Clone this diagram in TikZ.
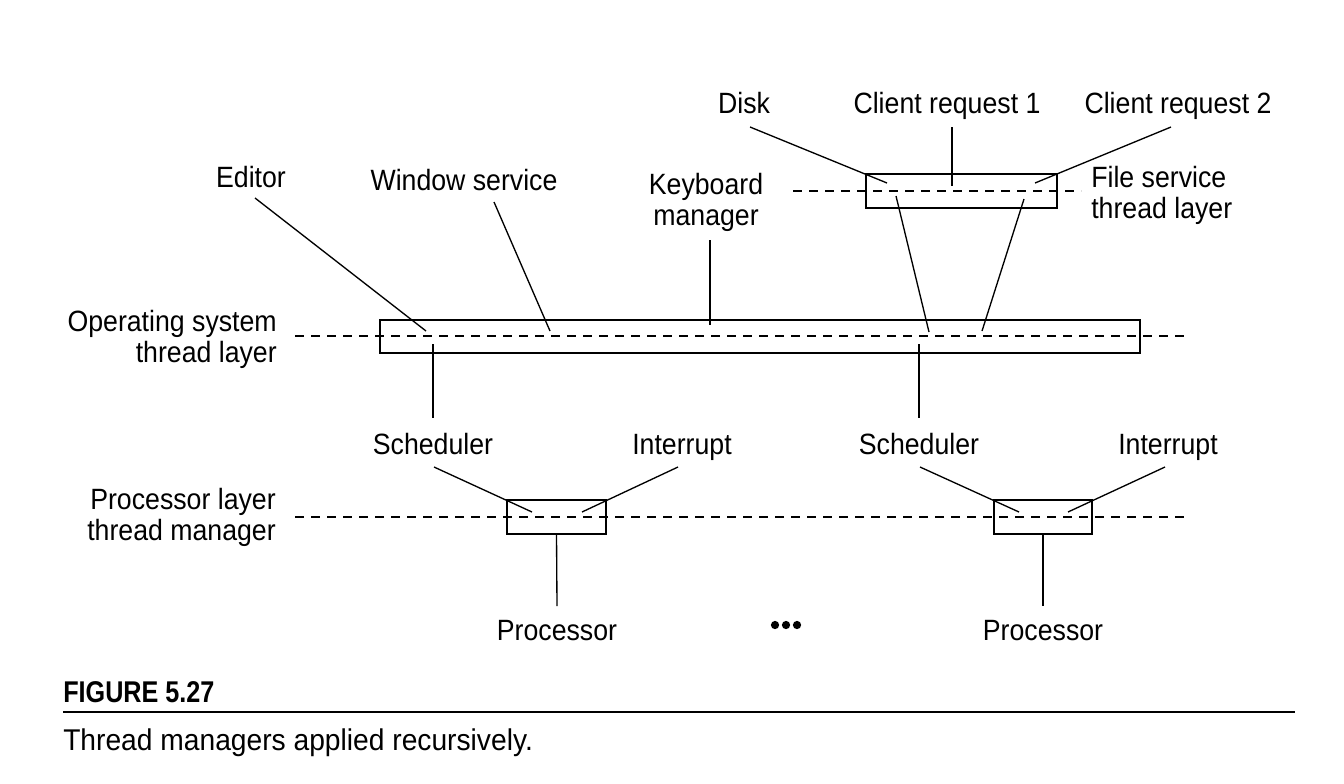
\documentclass[tikz,border=0pt]{standalone}
\usepackage{fontspec}
\usepackage{graphicx}
\setmainfont{Liberation Sans}
\newfontfamily\lblfont{Liberation Sans}[FakeStretch=0.91]
\newfontfamily\figfont{Liberation Sans Bold}[FakeStretch=0.84]
\usetikzlibrary{fit}
\newcommand{\twolines}[3]{\begin{tabular}[t]{@{}#1@{}}#2\\#3\end{tabular}}
\tikzset{
  lbl/.style={inner sep=0pt, font=\lblfont\fontsize{22}{23.25}\selectfont},
  layerbox/.style={draw, line width=1.25pt, inner sep=0pt},
  layerline/.style={line width=1.2pt, dash pattern=on 6.75pt off 5.25pt},
  leader/.style={line width=1pt},
}
\begin{document}
\begin{tikzpicture}[x=0.75pt,y=-0.75pt]
\useasboundingbox (0,0) rectangle (1344,783);

% ---------- dashed layer lines ----------
\coordinate (fsL) at (793,191);  \coordinate (fsR) at (1081,191);
\coordinate (osL) at (295,336);  \coordinate (osR) at (1189,336);
\coordinate (prL) at (295,517);  \coordinate (prR) at (1188,517);
\draw[layerline] (fsL) -- (fsR);
\draw[layerline] (osL) -- (osR);
\draw[layerline] (prL) -- (prR);

% ---------- boxes ----------
\node[layerbox, fit={(866,174)(1057,208)}] (fs) {};
\node[layerbox, fit={(380,320)(1140,353)}] (os) {};
\node[layerbox, fit={(507,500)(606,534)}] (p1) {};
\node[layerbox, fit={(994,500)(1092,534)}] (p2) {};

% ---------- labels ----------
\node[lbl, anchor=base] (disk) at (744,113) {Disk};
\node[lbl, anchor=base] (cr1) at (947,113) {Client request 1};
\node[lbl, anchor=base] (cr2) at (1178,113) {Client request 2};
\node[lbl, anchor=base west] (fslbl) at (1091,187) {\twolines{l}{File service}{thread layer}};
\node[lbl, anchor=base] (editor) at (251,187) {Editor};
\node[lbl, anchor=base] (window) at (464,190) {Window service};
\node[lbl, anchor=base] (keyb) at (706,194) {\twolines{c}{Keyboard}{manager}};
\node[lbl, anchor=base east] (oslbl) at (277,331) {\twolines{r}{Operating system}{thread layer}};
\node[lbl, anchor=base] (sch1) at (433,454) {Scheduler};
\node[lbl, anchor=base] (int1) at (682,454) {Interrupt};
\node[lbl, anchor=base] (sch2) at (919,454) {Scheduler};
\node[lbl, anchor=base] (int2) at (1168,454) {Interrupt};
\node[lbl, anchor=base east] (prlbl) at (276,509) {\twolines{r}{Processor layer}{thread manager}};
\node[lbl, anchor=base] (proc1) at (557,640) {Processor};
\node[lbl, anchor=base] (proc2) at (1043,640) {Processor};

% ---------- ellipsis dots ----------
\fill (775,625) circle (3.1pt);
\fill (786,625) circle (3.1pt);
\fill (797,625) circle (3.1pt);

% ---------- leader line end points ----------
\coordinate (disk-a) at (750,127);  \coordinate (disk-b) at (887,183);
\coordinate (cr1-a) at (952,127);   \coordinate (cr1-b) at (952,186);
\coordinate (cr2-a) at (1171,127);  \coordinate (cr2-b) at (1035,183);
\coordinate (fsos1-a) at (896,196); \coordinate (fsos1-b) at (929,332);
\coordinate (fsos2-a) at (1024,199);\coordinate (fsos2-b) at (982,331);
\coordinate (ed-a) at (255,198);    \coordinate (ed-b) at (426,331);
\coordinate (win-a) at (494,202);   \coordinate (win-b) at (550,331);
\coordinate (kb-a) at (710,240);    \coordinate (kb-b) at (710,325);
\coordinate (os1-a) at (433,344);   \coordinate (os1-b) at (433,418);
\coordinate (os2-a) at (919,344);   \coordinate (os2-b) at (919,418);
\coordinate (s1-a) at (434,467);    \coordinate (s1-b) at (532,512);
\coordinate (i1-a) at (678,467);    \coordinate (i1-b) at (582,512);
\coordinate (s2-a) at (920,467);    \coordinate (s2-b) at (1019,512);
\coordinate (i2-a) at (1165,467);   \coordinate (i2-b) at (1068,512);

% ---------- leader lines ----------
\draw[leader] (disk-a) -- (disk-b);
\draw[leader] (cr1-a) -- (cr1-b);
\draw[leader] (cr2-a) -- (cr2-b);
\draw[leader] (fsos1-a) -- (fsos1-b);
\draw[leader] (fsos2-a) -- (fsos2-b);
\draw[leader] (ed-a) -- (ed-b);
\draw[leader] (win-a) -- (win-b);
\draw[leader] (kb-a) -- (kb-b);
\draw[leader] (os1-a) -- (os1-b);
\draw[leader] (os2-a) -- (os2-b);
\draw[leader] (s1-a) -- (s1-b);
\draw[leader] (i1-a) -- (i1-b);
\draw[leader] (s2-a) -- (s2-b);
\draw[leader] (i2-a) -- (i2-b);
\draw[leader] (p1.south) -- (proc1.north |- 0,606);
\draw[leader] (p2.south) -- (proc2.north |- 0,606);

% ---------- caption ----------
\node[inner sep=0pt, anchor=base west, font=\figfont\fontsize{22.5}{26}\selectfont] (fig) at (63,702) {FIGURE 5.27};
\coordinate (ruleL) at (63,712); \coordinate (ruleR) at (1295,712);
\draw[line width=1pt] (ruleL) -- (ruleR);
\node[inner sep=0pt, anchor=base west, font=\fontsize{22.5}{27}\selectfont] (cap) at (63,750) {\scalebox{0.94}[1]{Thread managers applied recursively.}};
\end{tikzpicture}
\end{document}
